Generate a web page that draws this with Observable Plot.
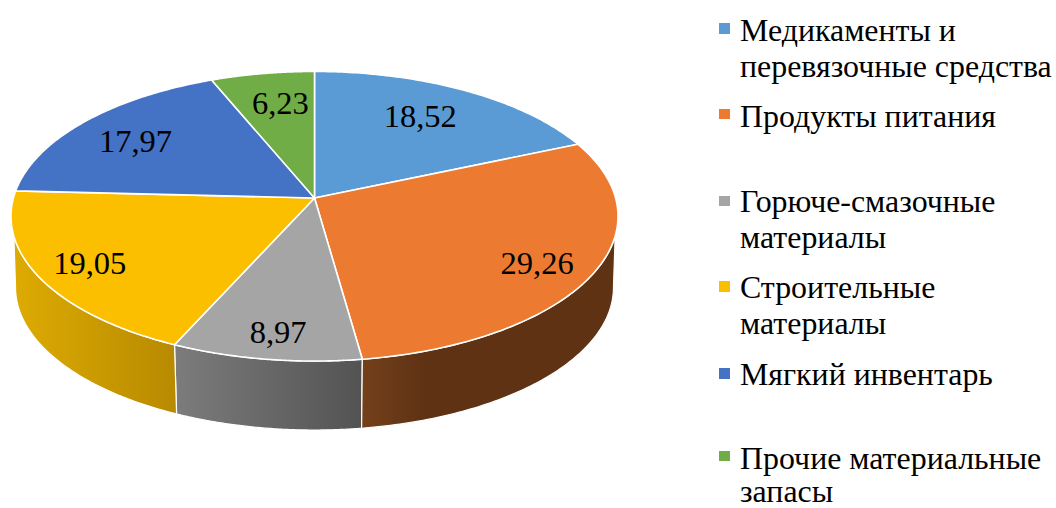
<!DOCTYPE html>
<html lang="ru">
<head>
<meta charset="utf-8">
<script src="https://cdn.jsdelivr.net/npm/d3@7"></script>
<script src="https://cdn.jsdelivr.net/npm/@observablehq/plot@0.6"></script>
<style>
  html, body { margin: 0; padding: 0; background: #fff; width: 1056px; height: 508px; overflow: hidden; }
  #chart { position: relative; width: 1056px; height: 508px; overflow: hidden; }
  #chart svg { position: absolute; left: 0; top: 0; }
  .item { position: absolute; left: 740px; font: 31.9px/36.5px "Liberation Serif", serif; color: #000; white-space: nowrap; }
  .swatch { position: absolute; left: 719px; width: 10.5px; height: 10.5px; }
</style>
</head>
<body>
<div id="chart"></div>
<script>
// Data
const categories = ["Медикаменты и\nперевязочные средства", "Продукты питания", "Горюче-смазочные\nматериалы", "Строительные\nматериалы", "Мягкий инвентарь", "Прочие материальные\nзапасы"];
const values = [18.52, 29.26, 8.97, 19.05, 17.97, 6.23];

// Style
const colors = ["#5B9BD5", "#EC7B31", "#A5A5A5", "#FCBF00", "#4472C4", "#70AD47"];
const wallStops = {
  1: [["#74401A", 0], ["#5F3214", 0.25], ["#5F3214", 1]],
  2: [["#7C7C7C", 0], ["#535353", 1]],
  3: [["#DDAB02", 0], ["#B88A00", 1]]
};
// Visible part of the side wall (degrees clockwise from the top): [top arc start, top arc end, bottom arc start, bottom arc end] null = slice edge
const wallClip = { 1: [105, null, 97.2, null], 2: [null, null, null, null], 3: [null, 255, null, 262.8] };
const wallOrder = [2, 1, 3];
// Layout
const labelRadius = 0.78;
const labelNudge = [[-14, 4], [7, 8], [0, 12], [-14, 4], [2, 4], [7, 5]];
const legendCentres = [31, 117, 202, 288, 375, 458];
const legendLineHeights = [36.5, 36.5, 36.5, 36.5, 36.5, 33];
const swatchCentres = [28.5, 114, 201, 286.5, 373.5, 456];
const persp = 0.1261, floorScale = 0.985, floorShift = 0.501;

// Perspective view of a unit disc
const project = (deg, r = 1) => {
  const t = deg * Math.PI / 180, u = Math.sin(t), v = -Math.cos(t), w = 1 - persp * r * v;
  return [r * u / w, r * v / w];
};
const floor = ([x, y]) => [x * floorScale, y * floorScale + floorShift];
const arc = (a, b, n = 90) => d3.range(n + 1).map(i => a + (b - a) * i / n);

let acc = 0;
const slices = values.map((v, i) => {
  const start = acc * 3.6; acc += v;
  return { i, value: v, start, end: acc * 3.6, mid: (start + acc * 3.6) / 2, label: v.toFixed(2).replace(".", ",") };
});

const wallMarks = wallOrder.map(i => {
  const s = slices[i], c = wallClip[i];
  const top = arc(c[0] ?? s.start, c[1] ?? s.end), bot = arc(c[2] ?? s.start, c[3] ?? s.end);
  const pts = top.map((t, k) => ({ a: project(t), b: floor(project(bot[k])) }));
  return Plot.area(pts, {
    x1: d => d.a[0], y1: d => d.a[1], x2: d => d.b[0], y2: d => d.b[1],
    fill: `url(#wall${i})`, stroke: "white", strokeWidth: 1.2
  });
});

const topMarks = slices.map(s => Plot.area(arc(s.start, s.end).map(t => project(t)), {
  x1: () => 0, y1: () => 0, x2: d => d[0], y2: d => d[1],
  fill: colors[s.i], stroke: "white", strokeWidth: 1.6, strokeLinejoin: "round"
}));

const labelMarks = slices.map(s => Plot.text([project(s.mid, labelRadius)], {
  x: d => d[0], y: d => d[1], text: () => s.label,
  dx: labelNudge[s.i][0], dy: labelNudge[s.i][1],
  fontFamily: "Liberation Serif", fontSize: 32.5, fill: "black", textAnchor: "middle", lineAnchor: "middle"
}));

const gradients = () => {
  const defs = d3.create("svg:defs");
  const span = { 1: [362, 614], 2: [175, 362], 3: [14, 175] };
  for (const i of Object.keys(wallStops)) {
    const g = defs.append("linearGradient").attr("id", `wall${i}`).attr("gradientUnits", "userSpaceOnUse")
      .attr("x1", span[i][0]).attr("x2", span[i][1]).attr("y1", 0).attr("y2", 0);
    for (const [col, off] of wallStops[i]) g.append("stop").attr("offset", off).attr("stop-color", col);
  }
  return defs.node();
};

const chart = Plot.plot({
  width: 1056, height: 508, margin: 0,
  style: { background: "white" },
  x: { axis: null, domain: [-1, 1], range: [314.5 - 301.1, 314.5 + 301.1] },
  y: { axis: null, domain: [-1, 1], range: [198 - 142.5, 198 + 142.5] },
  marks: [gradients, ...wallMarks, ...topMarks, ...labelMarks]
});
const root = document.getElementById("chart");
root.append(chart);

categories.forEach((c, i) => {
  const sw = document.createElement("div");
  sw.className = "swatch";
  sw.style.top = (swatchCentres[i] - 5.25) + "px";
  sw.style.background = colors[i];
  root.append(sw);
  const el = document.createElement("div");
  el.className = "item";
  el.style.lineHeight = legendLineHeights[i] + "px";
  el.style.top = (legendCentres[i] - legendLineHeights[i] / 2) + "px";
  c.split("\n").forEach((line, k) => { if (k) el.append(document.createElement("br")); el.append(line); });
  root.append(el);
});
</script>
</body>
</html>
